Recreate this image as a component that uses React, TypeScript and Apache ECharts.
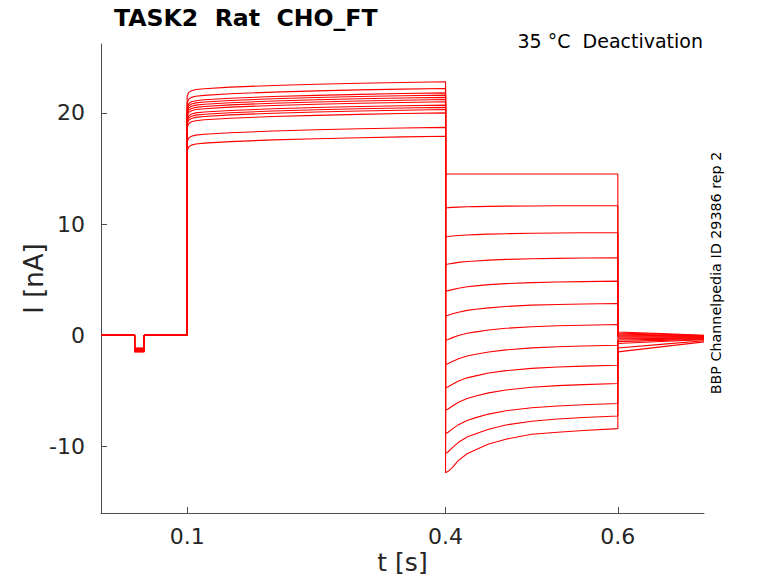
import React, { useEffect, useRef } from "react";
import * as echarts from "echarts";

// ---- axis ticks ----
const xTicks = [0.1, 0.4, 0.6];
const yTicks = [-10, 0, 10, 20];

// ---- holding + test pulse (s) ----
const pulseTimes = [0, 0.039, 0.039, 0.05, 0.05, 0.1];
const pulseValues = [-1.15, -1.18, -1.21, -1.24, -1.27, -1.3, -1.33, -1.36, -1.39, -1.42, -1.45, -1.48, -1.5];

// ---- activation step (0.1 - 0.4 s) ----
const actTimes = [0.1, 0.102, 0.105, 0.11, 0.12, 0.15, 0.2, 0.25, 0.3, 0.35, 0.4];
const actValues = [
  [21.5, 21.85, 22.0, 22.1, 22.18, 22.32, 22.47, 22.58, 22.67, 22.74, 22.8],
  [20.9, 21.25, 21.4, 21.5, 21.58, 21.72, 21.87, 21.98, 22.07, 22.14, 22.2],
  [20.5, 20.85, 21.0, 21.1, 21.18, 21.32, 21.47, 21.58, 21.67, 21.74, 21.8],
  [20.3, 20.65, 20.8, 20.9, 20.98, 21.12, 21.27, 21.38, 21.47, 21.54, 21.6],
  [20.1, 20.45, 20.6, 20.7, 20.78, 20.92, 21.07, 21.18, 21.27, 21.34, 21.4],
  [19.9, 20.25, 20.4, 20.5, 20.58, 20.72, 20.87, 20.98, 21.07, 21.14, 21.2],
  [19.7, 20.05, 20.2, 20.3, 20.38, 20.52, 20.67, 20.78, 20.87, 20.94, 21.0],
  [19.4, 19.75, 19.9, 20.0, 20.08, 20.22, 20.37, 20.48, 20.57, 20.64, 20.7],
  [19.2, 19.55, 19.7, 19.8, 19.88, 20.02, 20.17, 20.28, 20.37, 20.44, 20.5],
  [19.0, 19.35, 19.5, 19.6, 19.68, 19.82, 19.97, 20.08, 20.17, 20.24, 20.3],
  [18.7, 19.05, 19.2, 19.3, 19.38, 19.52, 19.67, 19.78, 19.87, 19.94, 20.0],
  [17.4, 17.75, 17.9, 18.0, 18.08, 18.22, 18.37, 18.48, 18.57, 18.64, 18.7],
  [16.6, 16.95, 17.1, 17.2, 17.28, 17.42, 17.57, 17.68, 17.77, 17.84, 17.9],
];

// ---- tail (deactivation) step (0.4 - 0.6 s) ----
const tailTimes = [0.4, 0.403, 0.408, 0.415, 0.425, 0.435, 0.45, 0.47, 0.5, 0.53, 0.56, 0.6];
const tailValues = [
  [14.5, 14.5, 14.5, 14.5, 14.5, 14.5, 14.5, 14.5, 14.5, 14.5, 14.5, 14.5],
  [11.47, 11.48, 11.5, 11.52, 11.55, 11.57, 11.59, 11.61, 11.62, 11.64, 11.64, 11.65],
  [8.86, 8.88, 8.92, 8.97, 9.02, 9.05, 9.09, 9.13, 9.17, 9.19, 9.21, 9.22],
  [6.37, 6.4, 6.46, 6.55, 6.63, 6.68, 6.75, 6.82, 6.88, 6.91, 6.94, 6.96],
  [3.96, 4.01, 4.1, 4.23, 4.36, 4.44, 4.55, 4.64, 4.73, 4.79, 4.82, 4.86],
  [1.74, 1.8, 1.92, 2.07, 2.23, 2.33, 2.46, 2.58, 2.7, 2.76, 2.81, 2.85],
  [-0.45, -0.38, -0.22, -0.03, 0.17, 0.3, 0.47, 0.62, 0.76, 0.85, 0.9, 0.96],
  [-2.64, -2.55, -2.36, -2.12, -1.87, -1.72, -1.51, -1.32, -1.14, -1.04, -0.97, -0.9],
  [-4.74, -4.64, -4.41, -4.13, -3.84, -3.66, -3.41, -3.19, -2.99, -2.86, -2.78, -2.7],
  [-6.76, -6.64, -6.37, -6.04, -5.7, -5.48, -5.19, -4.93, -4.69, -4.54, -4.45, -4.35],
  [-8.86, -8.73, -8.43, -8.05, -7.67, -7.42, -7.1, -6.8, -6.53, -6.37, -6.26, -6.15],
  [-10.66, -10.49, -10.12, -9.64, -9.17, -8.86, -8.46, -8.08, -7.75, -7.54, -7.41, -7.27],
  [-12.37, -12.25, -11.89, -11.26, -10.67, -10.31, -9.8, -9.36, -8.92, -8.73, -8.57, -8.41],
];

// ---- return to holding (0.6 - 0.7 s) ----
const deactTimes = [0.6, 0.65, 0.7];
const deactValues = [
  [0.28, 0.14, 0.0],
  [0.2, 0.08, -0.04],
  [0.12, 0.02, -0.08],
  [0.04, -0.04, -0.12],
  [-0.04, -0.1, -0.16],
  [-0.12, -0.16, -0.2],
  [-0.22, -0.23, -0.24],
  [-0.32, -0.3, -0.28],
  [-0.44, -0.38, -0.32],
  [-0.58, -0.47, -0.36],
  [-0.75, -0.575, -0.4],
  [-1.15, -0.825, -0.5],
  [-1.5, -1.05, -0.6],
];

const FONT = "DejaVu Sans";
const TXT = "#262626";
const AXIS = "#4d4d4d";

function buildTrace(i: number): number[][] {
  const p = pulseValues[i];
  const pulseShape = [0, 0, p, p, 0, 0];
  const pts: number[][] = [];
  pulseTimes.forEach((t, k) => pts.push([t, pulseShape[k]]));
  actTimes.forEach((t, k) => pts.push([t, actValues[i][k]]));
  tailTimes.forEach((t, k) => pts.push([t, tailValues[i][k]]));
  deactTimes.forEach((t, k) => pts.push([t, deactValues[i][k]]));
  return pts;
}

export default function App() {
  const ref = useRef<HTMLDivElement>(null);
  useEffect(() => {
    if (!ref.current) return;
    const chart = echarts.init(ref.current, undefined, { renderer: "svg" });
    const series = actValues.map((_, i) => ({
      type: "line",
      data: buildTrace(i),
      showSymbol: false,
      symbol: "none",
      lineStyle: { color: "#ff0000", width: 1.1 },
      itemStyle: { color: "#ff0000" },
      emphasis: { disabled: true },
      silent: true,
      clip: true,
    }));
    chart.setOption({
      animation: false,
      backgroundColor: "#ffffff",
      grid: { left: 101, right: 74, top: 44, bottom: 70, containLabel: false },
      xAxis: {
        type: "value",
        min: 0,
        max: 0.7,
        name: "t [s]",
        nameLocation: "middle",
        nameGap: 37,
        nameMoveOverlap: false,
        nameTextStyle: { fontSize: 25, color: TXT, fontFamily: FONT },
        axisLine: { show: true, onZero: false, lineStyle: { color: AXIS, width: 1 } },
        axisTick: { show: true, inside: true, length: 6, customValues: xTicks, lineStyle: { color: AXIS } },
        axisLabel: { customValues: xTicks, fontSize: 22, color: TXT, fontFamily: FONT, margin: 12 },
        splitLine: { show: false },
      },
      yAxis: {
        type: "value",
        min: -16,
        max: 26.2,
        name: "I [nA]",
        nameLocation: "middle",
        nameRotate: 90,
        nameGap: 54,
        nameMoveOverlap: false,
        nameTextStyle: { fontSize: 26, color: TXT, fontFamily: FONT },
        axisLine: { show: true, onZero: false, lineStyle: { color: AXIS, width: 1 } },
        axisTick: { show: true, inside: true, length: 6, customValues: yTicks, lineStyle: { color: AXIS } },
        axisLabel: { customValues: yTicks, fontSize: 22, color: TXT, fontFamily: FONT, margin: 16 },
        splitLine: { show: false },
      },
      graphic: [
        {
          type: "text",
          x: 114,
          y: 18,
          style: {
            text: "TASK2  Rat  CHO_FT",
            fontSize: 23.6,
            fontWeight: "bold",
            fontFamily: FONT,
            fill: "#000000",
            align: "left",
            verticalAlign: "middle",
          },
        },
        {
          type: "text",
          x: 703,
          y: 41,
          style: {
            text: "35 °C  Deactivation",
            fontSize: 19,
            fontFamily: FONT,
            fill: "#000000",
            align: "right",
            verticalAlign: "middle",
          },
        },
        {
          type: "text",
          x: 716,
          y: 273,
          rotation: Math.PI / 2,
          style: {
            text: "BBP Channelpedia ID 29386 rep 2",
            fontSize: 14.3,
            fontFamily: FONT,
            fill: "#000000",
            align: "center",
            verticalAlign: "middle",
          },
        },
      ],
      series,
    });
    return () => chart.dispose();
  }, []);
  return <div ref={ref} style={{ width: 778, height: 583, margin: -8 }} />;
}
